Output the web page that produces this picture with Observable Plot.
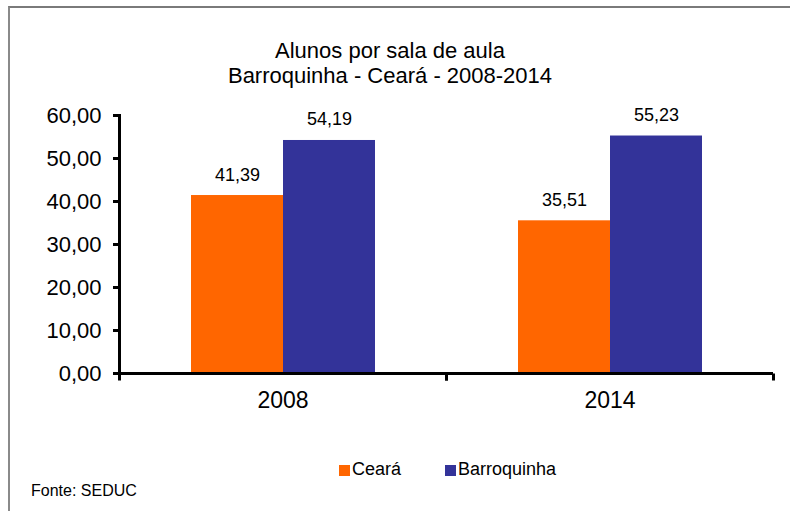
<!DOCTYPE html>
<html>
<head>
<meta charset="utf-8">
<script src="https://cdn.jsdelivr.net/npm/d3@7"></script>
<script src="https://cdn.jsdelivr.net/npm/@observablehq/plot@0.6"></script>
<style>
  html, body { margin: 0; padding: 0; background: #fff; width: 790px; height: 511px; overflow: hidden; }
  body { position: relative; font-family: "Liberation Sans", Arial, sans-serif; color: #000; }
  #border { position: absolute; left: 8px; top: 6px; width: 900px; height: 600px; border-left: 2px solid #8a8a8a; border-top: 2px solid #7a7a7a; }
  #title { position: absolute; left: 0; width: 780px; top: 38px; text-align: center; font-size: 22px; line-height: 25px; }
  #chart { position: absolute; left: 0; top: 100px; }
  #legend { position: absolute; top: 458px; left: 0; font-size: 18px; line-height: 22px; }
  .item { position: absolute; white-space: nowrap; }
  .sw { display: inline-block; width: 11px; height: 11px; margin-right: 2px; vertical-align: -1px; }
  #source { position: absolute; left: 31px; top: 482px; font-size: 16px; }
</style>
</head>
<body>
<div id="border"></div>
<div id="title"></div>
<div id="chart"></div>
<div id="legend"></div>
<div id="source"></div>
<script>
const titleLines = ["Alunos por sala de aula", "Barroquinha - Ceará - 2008-2014"];
const years = ["2008", "2014"];
const series = ["Ceará", "Barroquinha"];
const ceara = [41.39, 35.51];
const barroquinha = [54.19, 55.23];
const yTicks = [0, 10, 20, 30, 40, 50, 60];
const colors = ["#FF6600", "#333399"];
const sourceText = "Fonte: SEDUC";

const fmt = v => v.toFixed(2).replace(".", ",");

const data = [];
years.forEach((yr, i) => {
  data.push({year: yr, series: series[0], value: ceara[i]});
  data.push({year: yr, series: series[1], value: barroquinha[i]});
});

document.getElementById("title").innerHTML = titleLines.join("<br>");
document.getElementById("source").textContent = sourceText;

const legendX = [339, 445];
const legend = document.getElementById("legend");
series.forEach((s, i) => {
  const it = document.createElement("div");
  it.className = "item";
  it.style.left = legendX[i] + "px";
  it.innerHTML = `<span class="sw" style="background:${colors[i]}"></span>${s}`;
  legend.appendChild(it);
});

const tickSymbol = { draw(ctx) { ctx.moveTo(0, 0); ctx.lineTo(0, 7); } };

const chart = Plot.plot({
  width: 790,
  height: 318,
  marginLeft: 118,
  marginRight: 17,
  marginTop: 15,
  marginBottom: 45,
  style: { fontFamily: "'Liberation Sans', Arial, sans-serif", color: "#000", background: "transparent" },
  fx: { domain: years, padding: 0, label: null },
  x: { domain: series, paddingInner: 0, paddingOuter: 0.76, axis: null },
  y: { domain: [0, 60], axis: null },
  color: { domain: series, range: colors },
  marks: [
    Plot.barY(data, { fx: "year", x: "series", y: "value", fill: "series" }),
    Plot.text(data, { fx: "year", x: "series", y: "value", text: d => fmt(d.value), lineAnchor: "bottom", dy: -15, fontSize: 18, fill: "#000" }),
    Plot.ruleY([0], { stroke: "#000", strokeWidth: 3 }),
    Plot.frame({ anchor: "left", facetAnchor: "left", stroke: "#000", strokeWidth: 3 }),
    Plot.dot([null], { frameAnchor: "bottom-right", symbol: tickSymbol, stroke: "#000", fill: "none", strokeWidth: 3 }),
    Plot.dot([null], { frameAnchor: "bottom-left", symbol: tickSymbol, stroke: "#000", fill: "none", strokeWidth: 3 }),
    Plot.axisY({ ticks: yTicks, tickSize: 6, tickPadding: 12, tickFormat: fmt, fontSize: 22, strokeWidth: 3, label: null }),
    Plot.axisFx({ anchor: "bottom", tickSize: 0, tickPadding: 18, fontSize: 23, label: null })
  ]
});
document.getElementById("chart").appendChild(chart);
</script>
</body>
</html>
